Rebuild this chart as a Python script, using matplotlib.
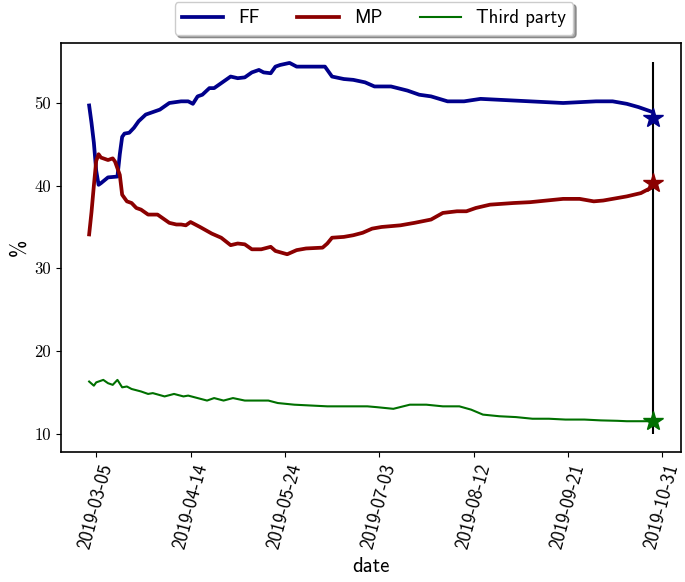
import matplotlib
matplotlib.use("Agg")
import matplotlib.pyplot as plt
import pandas as pd
import numpy as np

start_date = "2019-03-02"
election_date = "2019-10-27"

ff_day = [0, 1, 2, 3, 4, 5, 8, 12, 13, 14, 15, 17, 19, 21, 24, 26, 30, 34, 39, 42, 44, 46, 48, 51, 53,
          57, 60, 63, 66, 69, 72, 74, 77, 79, 81, 85, 88, 92, 100, 103, 108, 112, 117, 121, 128, 135,
          140, 145, 152, 159, 166, 173, 180, 187, 194, 201, 208, 215, 222, 228, 233, 237, 239]
ff_val = [49.7, 47.6, 45.2, 41.8, 40.1, 40.3, 41.0, 41.1, 43.8, 45.9, 46.3, 46.4, 47.0, 47.8, 48.6, 48.8,
          49.2, 50.0, 50.2, 50.2, 49.9, 50.8, 51.0, 51.8, 51.8, 52.6, 53.2, 53.0, 53.1, 53.7, 54.0, 53.7,
          53.6, 54.4, 54.6, 54.85, 54.4, 54.4, 54.4, 53.2, 52.9, 52.8, 52.5, 52.0, 52.0, 51.5, 51.0, 50.8,
          50.2, 50.2, 50.5, 50.4, 50.3, 50.2, 50.1, 50.0, 50.1, 50.2, 50.2, 49.9, 49.5, 49.1, 48.9]

mp_day = [0, 1, 2, 3, 4, 5, 8, 10, 11, 13, 14, 16, 18, 20, 22, 25, 29, 31, 34, 37, 39, 41, 43, 47, 52,
          56, 60, 63, 66, 69, 73, 77, 79, 84, 88, 92, 99, 101, 103, 108, 112, 116, 120, 124, 128, 132,
          138, 145, 150, 156, 160, 164, 170, 180, 187, 194, 201, 208, 214, 218, 222, 228, 234, 238, 239]
mp_val = [34.1, 36.8, 40.0, 43.0, 43.8, 43.4, 43.1, 43.3, 42.9, 41.3, 38.9, 38.1, 37.9, 37.3, 37.1, 36.5,
          36.5, 36.1, 35.5, 35.3, 35.3, 35.2, 35.6, 35.0, 34.2, 33.7, 32.8, 33.0, 32.9, 32.3, 32.3, 32.6,
          32.1, 31.7, 32.2, 32.4, 32.5, 33.0, 33.7, 33.8, 34.0, 34.3, 34.8, 35.0, 35.1, 35.2, 35.5, 35.9,
          36.7, 36.9, 36.9, 37.3, 37.7, 37.9, 38.0, 38.2, 38.4, 38.4, 38.1, 38.2, 38.4, 38.7, 39.1, 39.7, 40.0]

tp_day = [0, 2, 3, 6, 8, 10, 12, 14, 16, 18, 22, 25, 27, 32, 36, 40, 42, 46, 50, 53, 57, 61, 66, 73, 76,
          80, 87, 94, 101, 108, 118, 122, 129, 136, 143, 150, 157, 162, 167, 174, 181, 188, 195, 202,
          210, 217, 224, 228, 235, 239]
tp_val = [16.3, 15.8, 16.2, 16.5, 16.1, 15.9, 16.5, 15.6, 15.7, 15.4, 15.1, 14.8, 14.9, 14.5, 14.8, 14.5,
          14.6, 14.3, 14.0, 14.3, 14.0, 14.3, 14.0, 14.0, 14.0, 13.7, 13.5, 13.4, 13.3, 13.3, 13.3, 13.2,
          13.0, 13.5, 13.5, 13.3, 13.3, 12.9, 12.3, 12.1, 12.0, 11.8, 11.8, 11.7, 11.7, 11.6, 11.55, 11.5,
          11.5, 11.5]

result_names = ["FF", "MP", "Third party"]
result_vals = [48.24, 40.28, 11.48]
vline_range = [10, 55]

tick_dates = ["2019-03-05", "2019-04-14", "2019-05-24", "2019-07-03", "2019-08-12", "2019-09-21", "2019-10-31"]

colors = ["#00008B", "#8B0000", "#007000"]
widths = [2.7, 2.7, 1.5]

base = pd.Timestamp(start_date)
to_dates = lambda days: [base + pd.Timedelta(days=d) for d in days]

fig = plt.figure(figsize=(6.85, 5.82), dpi=100)
ax = fig.add_axes([0.089, 0.223, 0.905, 0.703])

series = [(ff_day, ff_val), (mp_day, mp_val), (tp_day, tp_val)]
sans = "cmss10"
for (d, v), name, c, w in zip(series, result_names, colors, widths):
    ax.plot(to_dates(d), v, color=c, lw=w, label=name)

ed = pd.Timestamp(election_date)
ax.vlines(ed, vline_range[0], vline_range[1], color="black", lw=1.5)
for val, c in zip(result_vals, colors):
    ax.plot([ed], [val], marker="*", markersize=15, color=c, zorder=5)

ax.set_xticks([pd.Timestamp(t) for t in tick_dates])
ax.set_xticklabels(tick_dates, rotation=75, fontsize=13.5, family=sans)
ax.set_yticks([10, 20, 30, 40, 50])
ax.set_yticklabels(["10", "20", "30", "40", "50"], fontsize=12, family="cmr10")
ax.set_xlabel("date", fontsize=15, family=sans)
ax.set_ylabel("%", fontsize=15, family=sans)

for s in ax.spines.values():
    s.set_linewidth(1.2)

leg = ax.legend(loc="lower center", bbox_to_anchor=(0.505, 1.02), ncol=3, shadow=True,
                fancybox=True, prop={"family": sans, "size": 13.5}, borderaxespad=0,
                handlelength=2.2, columnspacing=2.0)

fig.savefig("out.png", dpi=100)
